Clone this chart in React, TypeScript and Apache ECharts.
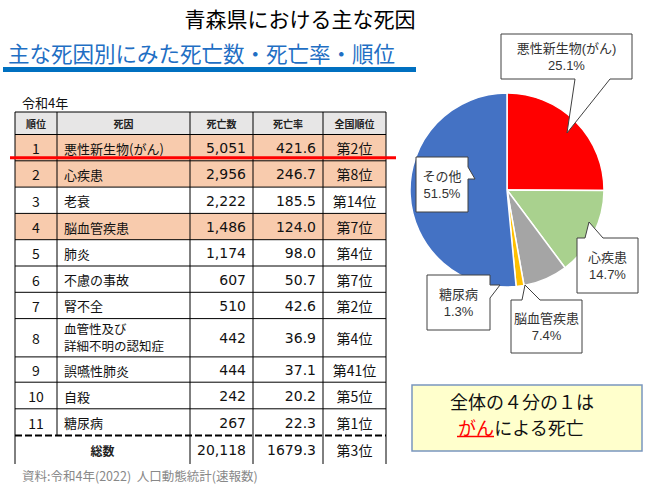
import React, { useEffect, useRef } from 'react';
import * as echarts from 'echarts';

// ---------- data ----------
const headers = ['順位', '死因', '死亡数', '死亡率', '全国順位'];
const ranks = ['1', '2', '3', '4', '5', '6', '7', '8', '9', '10', '11'];
const causes = [
  '悪性新生物(がん)',
  '心疾患',
  '老衰',
  '脳血管疾患',
  '肺炎',
  '不慮の事故',
  '腎不全',
  '血管性及び\n詳細不明の認知症',
  '誤嚥性肺炎',
  '自殺',
  '糖尿病',
];
const deaths = [5051, 2956, 2222, 1486, 1174, 607, 510, 442, 444, 242, 267];
const rates = [421.6, 246.7, 185.5, 124.0, 98.0, 50.7, 42.6, 36.9, 37.1, 20.2, 22.3];
const nationalRanks = ['第2位', '第8位', '第14位', '第7位', '第4位', '第7位', '第2位', '第4位', '第41位', '第5位', '第1位'];
const highlightedRows = [0, 1, 3];
const totalLabel = '総数';
const totalDeaths = 20118;
const totalRate = 1679.3;
const totalNational = '第3位';

const pieNames = ['悪性新生物(がん)', '心疾患', '脳血管疾患', '糖尿病', 'その他'];
const pieValues = [25.1, 14.7, 7.4, 1.3, 51.5];
const pieColors = ['#ff0000', '#a9d18e', '#a5a5a5', '#ffc000', '#4472c4'];

const titleText = '青森県における主な死因';
const subtitleText = '主な死因別にみた死亡数・死亡率・順位';
const yearText = '令和4年';
const sourceText = '資料:令和4年(2022)  人口動態統計(速報数)';
const noteLine1 = '全体の４分の１は';
const noteRed = 'がん';
const noteRest = 'による死亡';

// ---------- layout ----------
const FONT = '"Noto Sans CJK JP", "Noto Sans", sans-serif';
const LFONT = '"Liberation Sans", "Noto Sans CJK JP", sans-serif';
const colX = [15, 57, 190, 253, 323, 386];
const tableTop = 112;
const headerH = 22.5;
const rowHeights = [26.3, 26.3, 26.3, 26.3, 26.3, 26.3, 26.3, 38.3, 25.3, 26.6, 26.7];
const totalH = 28.5;

// callout shapes (box + pointer) and label centres, in pie order
const calloutPolys: number[][][] = [
  [[501, 34], [632, 34], [632, 79], [610, 79], [567, 133], [575, 79], [501, 79]],
  [[577, 238], [585, 238], [589, 222], [603, 238], [638, 238], [638, 293], [577, 293]],
  [[511, 300], [522, 300], [525, 285], [540, 300], [582, 300], [582, 353], [511, 353]],
  [[427, 275], [490, 275], [490, 285], [500, 285], [490, 298], [490, 330], [427, 330]],
  [[416, 157], [468, 157], [468, 167], [475, 179], [468, 179], [468, 212], [416, 212]],
];
const calloutCenters = [
  [566.5, 56.5],
  [607.5, 265.5],
  [546.5, 326.5],
  [458.5, 302.5],
  [442, 184.5],
];

function fmtInt(n: number) {
  return n.toLocaleString('en-US');
}

function buildTable(): any[] {
  const els: any[] = [];
  const left = colX[0];
  const right = colX[colX.length - 1];
  const width = right - left;
  const rowTops: number[] = [];
  let y = tableTop + headerH;
  for (let i = 0; i < rowHeights.length; i++) {
    rowTops.push(y);
    y += rowHeights[i];
  }
  const bodyBottom = y;
  const totalBottom = bodyBottom + totalH;

  els.push({ type: 'rect', shape: { x: left, y: tableTop, width, height: headerH }, style: { fill: '#e7e6e6' }, z: 1 });
  highlightedRows.forEach((r) => {
    els.push({ type: 'rect', shape: { x: left, y: rowTops[r], width, height: rowHeights[r] }, style: { fill: '#f8cbad' }, z: 1 });
  });

  const hLines = [tableTop, tableTop + headerH, ...rowTops.slice(1)];
  hLines.forEach((hy) => {
    els.push({ type: 'line', shape: { x1: left, y1: hy, x2: right, y2: hy }, style: { stroke: '#000', lineWidth: 1 }, z: 3 });
  });
  els.push({
    type: 'line',
    shape: { x1: left, y1: bodyBottom, x2: right, y2: bodyBottom },
    style: { stroke: '#000', lineWidth: 2.2, lineDash: [7, 3] },
    z: 3,
  });
  colX.forEach((cx, i) => {
    els.push({ type: 'line', shape: { x1: cx, y1: tableTop, x2: cx, y2: i === 1 ? bodyBottom : totalBottom }, style: { stroke: '#000', lineWidth: 1 }, z: 3 });
  });

  headers.forEach((h, i) => {
    els.push({
      type: 'text',
      z: 4,
      style: { text: h, x: (colX[i] + colX[i + 1]) / 2, y: tableTop + headerH / 2 + 0.5, align: 'center', verticalAlign: 'middle', font: `bold 10px ${FONT}`, fill: '#222' },
    });
  });

  for (let r = 0; r < ranks.length; r++) {
    const cy = rowTops[r] + rowHeights[r] / 2 + 0.5;
    const multi = causes[r].indexOf('\n') >= 0;
    els.push({ type: 'text', z: 4, style: { text: ranks[r], x: (colX[0] + colX[1]) / 2, y: cy, align: 'center', verticalAlign: 'middle', font: `14px ${FONT}`, fill: '#111' } });
    els.push({
      type: 'text',
      z: 4,
      style: {
        text: causes[r],
        x: colX[1] + 7,
        y: cy,
        align: 'left',
        verticalAlign: 'middle',
        font: multi ? `12.5px ${LFONT}` : `13px ${FONT}`,
        lineHeight: 17,
        fill: '#111',
      },
    });
    els.push({ type: 'text', z: 4, style: { text: fmtInt(deaths[r]), x: colX[3] - 7, y: cy, align: 'right', verticalAlign: 'middle', font: `14px "DejaVu Sans", ${FONT}`, fill: '#111' } });
    els.push({ type: 'text', z: 4, style: { text: rates[r].toFixed(1), x: colX[4] - 7, y: cy, align: 'right', verticalAlign: 'middle', font: `14px "DejaVu Sans", ${FONT}`, fill: '#111' } });
    els.push({ type: 'text', z: 4, style: { text: nationalRanks[r], x: (colX[4] + colX[5]) / 2, y: cy, align: 'center', verticalAlign: 'middle', font: `14px ${FONT}`, fill: '#111' } });
  }
  const ty = bodyBottom + totalH / 2 + 0.5;
  els.push({ type: 'text', z: 4, style: { text: totalLabel, x: (colX[0] + colX[2]) / 2, y: ty, align: 'center', verticalAlign: 'middle', font: `bold 12px ${FONT}`, fill: '#222' } });
  els.push({ type: 'text', z: 4, style: { text: fmtInt(totalDeaths), x: colX[3] - 7, y: ty, align: 'right', verticalAlign: 'middle', font: `14px "DejaVu Sans", ${FONT}`, fill: '#111' } });
  els.push({ type: 'text', z: 4, style: { text: totalRate.toFixed(1), x: colX[4] - 7, y: ty, align: 'right', verticalAlign: 'middle', font: `14px "DejaVu Sans", ${FONT}`, fill: '#111' } });
  els.push({ type: 'text', z: 4, style: { text: totalNational, x: (colX[4] + colX[5]) / 2, y: ty, align: 'center', verticalAlign: 'middle', font: `14px ${FONT}`, fill: '#111' } });

  els.push({ type: 'line', shape: { x1: 10, y1: 157.7, x2: 396, y2: 157.7 }, style: { stroke: '#ff0000', lineWidth: 3 }, z: 6 });
  return els;
}

function buildCallouts(): any[] {
  const els: any[] = [];
  pieNames.forEach((name, i) => {
    els.push({
      type: 'polygon',
      z: 100,
      shape: { points: calloutPolys[i] },
      style: { fill: '#ffffff', stroke: '#404040', lineWidth: 1 },
    });
    els.push({
      type: 'text',
      z: 101,
      style: {
        text: `${name}\n${pieValues[i].toFixed(1)}%`,
        x: calloutCenters[i][0],
        y: calloutCenters[i][1],
        align: 'center',
        verticalAlign: 'middle',
        font: `13px ${LFONT}`,
        lineHeight: 17,
        fill: '#333',
      },
    });
  });
  return els;
}

export default function App() {
  const ref = useRef<HTMLDivElement>(null);
  useEffect(() => {
    document.body.style.margin = '0';
    const chart = echarts.init(ref.current!, null, { renderer: 'svg' });
    const option: any = {
      animation: false,
      backgroundColor: '#ffffff',
      series: [
        {
          type: 'pie',
          center: [507, 190],
          radius: 97,
          startAngle: 90,
          clockwise: true,
          label: { show: false },
          labelLine: { show: false },
          emphasis: { disabled: true },
          itemStyle: { borderColor: '#ffffff', borderWidth: 1.5 },
          data: pieNames.map((n, i) => ({ name: n, value: pieValues[i], itemStyle: { color: pieColors[i] } })),
        },
      ],
      graphic: [
        { type: 'text', z: 10, style: { text: titleText, x: 300, y: 18, align: 'center', verticalAlign: 'middle', font: `21px ${FONT}`, fill: '#000' } },
        { type: 'text', z: 10, style: { text: subtitleText, x: 8, y: 52, align: 'left', verticalAlign: 'middle', font: `21.5px ${FONT}`, fill: '#1f6fc4' } },
        { type: 'rect', z: 10, shape: { x: 3, y: 67, width: 413, height: 5 }, style: { fill: '#0070c0' } },
        { type: 'text', z: 10, style: { text: yearText, x: 22, y: 102, align: 'left', verticalAlign: 'middle', font: `13px ${FONT}`, fill: '#111' } },
        ...buildTable(),
        { type: 'text', z: 10, style: { text: sourceText, x: 22, y: 475, align: 'left', verticalAlign: 'middle', font: `12.5px ${FONT}`, fill: '#888' } },
        ...buildCallouts(),
        { type: 'rect', z: 10, shape: { x: 412, y: 385, width: 230, height: 66 }, style: { fill: '#ffffcc', stroke: '#7a96bf', lineWidth: 1.5 } },
        { type: 'text', z: 11, style: { text: noteLine1, x: 522, y: 401, align: 'center', verticalAlign: 'middle', font: `18px ${FONT}`, fill: '#111' } },
        {
          type: 'text',
          z: 11,
          style: {
            text: `{r|${noteRed}}${noteRest}`,
            x: 521,
            y: 427,
            align: 'center',
            verticalAlign: 'middle',
            font: `18px ${FONT}`,
            fill: '#111',
            rich: { r: { fill: '#ff0000', font: `18px ${FONT}` } },
          },
        },
        { type: 'line', z: 11, shape: { x1: 457, y1: 436.5, x2: 494, y2: 436.5 }, style: { stroke: '#ff0000', lineWidth: 1.5 } },
      ],
    };
    chart.setOption(option);
    return () => chart.dispose();
  }, []);
  return <div ref={ref} style={{ width: 664, height: 487 }} />;
}
